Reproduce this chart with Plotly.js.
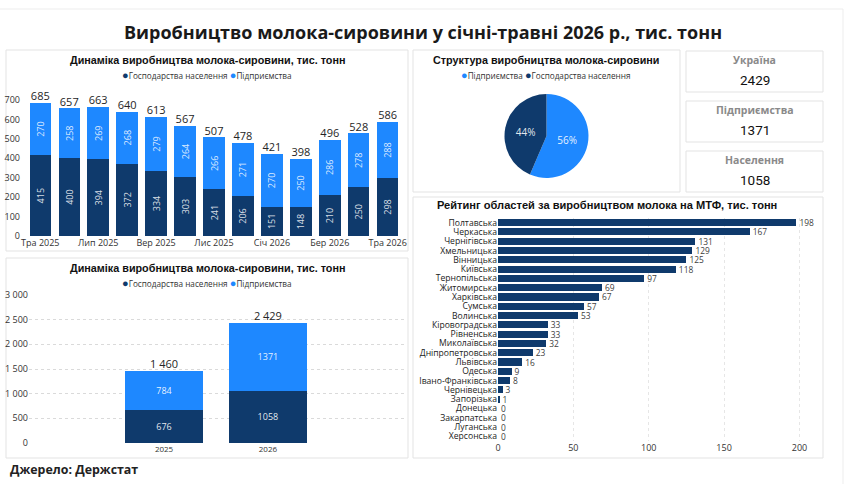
<!DOCTYPE html>
<html>
<head>
<meta charset="utf-8">
<script src="https://cdn.plot.ly/plotly-3.0.1.min.js"></script>
<style>
html,body{margin:0;padding:0;background:#fff;}
#chart{width:849px;height:484px;}
</style>
</head>
<body>
<div id="chart"></div>
<script>
// ---- Data ----
const months = ["Тра 2025","Чер 2025","Лип 2025","Сер 2025","Вер 2025","Жов 2025","Лис 2025","Гру 2025","Січ 2026","Лют 2026","Бер 2026","Кві 2026","Тра 2026"];
const monthTickLabels = ["Тра 2025","Лип 2025","Вер 2025","Лис 2025","Січ 2026","Бер 2026","Тра 2026"];
const householdsMonthly = [415,400,394,372,334,303,241,206,151,148,210,250,298];
const enterprisesMonthly = [270,258,269,268,279,264,266,271,270,250,286,278,288];
const totalsMonthly = [685,657,663,640,613,567,507,478,421,398,496,528,586];

const years = ["2025","2026"];
const householdsYear = [676,1058];
const enterprisesYear = [784,1371];
const totalsYear = [1460,2429];

const pieLabels = ["Підприємства","Господарства населення"];
const pieValues = [1371,1058];

const kpiLabels = ["Україна","Підприємства","Населення"];
const kpiValues = [2429,1371,1058];

const regions = ["Полтавська","Черкаська","Чернігівська","Хмельницька","Вінницька","Київська","Тернопільська","Житомирська","Харківська","Сумська","Волинська","Кіровоградська","Рівненська","Миколаївська","Дніпропетровська","Львівська","Одеська","Івано-Франківська","Чернівецька","Запорізька","Донецька","Закарпатська","Луганська","Херсонська"];
const regionValues = [198,167,131,129,125,118,97,69,67,57,53,33,33,32,23,16,9,8,3,1,0,0,0,0];

// ---- Style ----
const NAVY = "#0F3A6C";
const BLUE = "#1E88FF";
const W = 849, H = 484;
const px = x => x / W;
const py = y => 1 - y / H;
const FONT = "Open Sans, Noto Sans, sans-serif";
const TFONT = "Liberation Sans, Arial, sans-serif";

const traces = [];

// Chart 1: monthly stacked bars
traces.push({type:"bar", x:months, y:householdsMonthly, name:"Господарства населення",
  marker:{color:NAVY}, text:householdsMonthly.map(String), textposition:"inside",
  insidetextanchor:"middle", textangle:-90, constraintext:"none", textfont:{color:"rgba(255,255,255,0.85)", size:9, family:FONT},
  xaxis:"x", yaxis:"y", showlegend:false, hoverinfo:"y"});
traces.push({type:"bar", x:months, y:enterprisesMonthly, name:"Підприємства",
  marker:{color:BLUE}, text:enterprisesMonthly.map(String), textposition:"inside",
  insidetextanchor:"middle", textangle:-90, constraintext:"none", textfont:{color:"rgba(255,255,255,0.85)", size:9, family:FONT},
  xaxis:"x", yaxis:"y", showlegend:false, hoverinfo:"y"});
traces.push({type:"scatter", mode:"text", x:months, y:totalsMonthly, text:totalsMonthly.map(String),
  textposition:"top center", textfont:{color:"#252525", size:11, family:FONT}, cliponaxis:false,
  xaxis:"x", yaxis:"y", showlegend:false, hoverinfo:"skip"});

// Chart 2: yearly stacked bars
traces.push({type:"bar", x:years, y:householdsYear, name:"Господарства населення", width:[0.75,0.75],
  marker:{color:NAVY}, text:householdsYear.map(String), textposition:"inside", insidetextanchor:"middle",
  textfont:{color:"rgba(255,255,255,0.9)", size:9, family:FONT}, xaxis:"x2", yaxis:"y2", showlegend:false});
traces.push({type:"bar", x:years, y:enterprisesYear, name:"Підприємства", width:[0.75,0.75],
  marker:{color:BLUE}, text:enterprisesYear.map(String), textposition:"inside", insidetextanchor:"middle",
  textfont:{color:"rgba(255,255,255,0.9)", size:9, family:FONT}, xaxis:"x2", yaxis:"y2", showlegend:false});
traces.push({type:"scatter", mode:"text", x:years, y:totalsYear, texttemplate:"%{y:,.0f}",
  textposition:"top center", textfont:{color:"#252525", size:11, family:FONT}, cliponaxis:false,
  xaxis:"x2", yaxis:"y2", showlegend:false, hoverinfo:"skip"});

// Pie
traces.push({type:"pie", labels:pieLabels, values:pieValues, sort:false, direction:"clockwise", rotation:0,
  marker:{colors:[BLUE, NAVY]}, textinfo:"percent", texttemplate:"%{percent:.0%}", textposition:"inside",
  insidetextorientation:"horizontal",
  textfont:{color:"rgba(255,255,255,0.9)", size:10, family:FONT},
  domain:{x:[px(504), px(589)], y:[py(178), py(94)]}, showlegend:false});

// Ranking
traces.push({type:"bar", orientation:"h", y:regions, x:regionValues, marker:{color:NAVY},
  width:regionValues.map(()=>0.76),
  text:regionValues.map(String), textposition:"outside", cliponaxis:false, constraintext:"none",
  textfont:{color:"#404040", size:8.4, family:FONT}, xaxis:"x3", yaxis:"y3", showlegend:false});

// ---- Panels ----
const shapes = [];
function box(x0,y0,x1,y1,color){
  shapes.push({type:"rect", xref:"paper", yref:"paper", x0:px(x0), x1:px(x1), y0:py(y1), y1:py(y0),
    line:{color:color||"#E3E3E3", width:1}, fillcolor:"rgba(0,0,0,0)", layer:"below"});
}
shapes.push({type:"line", xref:"paper", yref:"paper", x0:0, x1:px(843), y0:py(9), y1:py(9), line:{color:"#EDEDED", width:1}});
shapes.push({type:"line", xref:"paper", yref:"paper", x0:px(843), x1:px(843), y0:py(9), y1:py(484), line:{color:"#EDEDED", width:1}});
box(6,50,408,251);
box(6,258,408,458);
box(413,50,680,192);
box(686,51,823,92);
box(686,101,823,142);
box(686,151,823,192);
box(413,197,823,458);

const annotations = [];
function txt(x,y,text,size,color,family,opts){
  annotations.push(Object.assign({xref:"paper", yref:"paper", x:px(x), y:py(y), text:text, showarrow:false,
    xanchor:"center", yanchor:"middle", font:{size:size, color:color||"#111", family:family||FONT}}, opts||{}));
}
txt(423,32,"<b>Виробництво молока-сировини у січні-травні 2026 р., тис. тонн</b>",18,"#1a1a1a",FONT);
const dot = c => `<span style="color:${c};font-size:11px">●</span>`;
const legend1 = `${dot(NAVY)}Господарства населення ${dot(BLUE)}Підприємства`;
const legend2 = `${dot(BLUE)}Підприємства ${dot(NAVY)}Господарства населення`;
txt(207,60,"<b>Динаміка виробництва молока-сировини, тис. тонн</b>",10.8,"#111",TFONT);
txt(207,75,legend1,8.2,"#333");
txt(207,268,"<b>Динаміка виробництва молока-сировини, тис. тонн</b>",10.8,"#111",TFONT);
txt(207,282,legend1,8.2,"#333");
txt(546,60,"<b>Структура виробництва молока-сировини</b>",10.8,"#111",TFONT);
txt(546,75,legend2,8.2,"#333");
txt(607,205,"<b>Рейтинг областей за виробництвом молока на МТФ, тис. тонн</b>",11.1,"#111",TFONT);
const kpiY = [51,101,151];
for (let i=0;i<kpiLabels.length;i++){
  txt(754.5,kpiY[i]+9,"<b>"+kpiLabels[i]+"</b>",10.5,"#8a8a8a");
  txt(754.5,kpiY[i]+29,String(kpiValues[i]),13.5,"#111","Roboto, sans-serif");
}
txt(8,469,"<b>Джерело: Держстат</b>",12.4,"#222",FONT,{xanchor:"left"});

const tickFont = {size:9, color:"#333", family:FONT};

const layout = {
  width:W, height:H, margin:{l:0,r:0,t:0,b:0},
  paper_bgcolor:"#fff", plot_bgcolor:"rgba(0,0,0,0)",
  separators:", ",
  barmode:"stack",
  font:{family:FONT},
  xaxis:{domain:[px(21), px(407)], anchor:"y", type:"category", tickmode:"array", tickvals:monthTickLabels, ticktext:monthTickLabels,
    tickfont:tickFont, showgrid:false, zeroline:false, showline:false, ticks:""},
  yaxis:{domain:[py(236), py(92)], anchor:"x", range:[0, 741], tickvals:[0,100,200,300,400,500,600,700],
    tickfont:tickFont, showgrid:false, zeroline:false, ticks:""},
  xaxis2:{domain:[px(29), px(405)], anchor:"y2", type:"category", range:[-1.3, 2.32],
    tickfont:{size:8, color:"#333", family:FONT}, showgrid:false, zeroline:false, ticks:""},
  yaxis2:{domain:[py(443), py(295)], anchor:"x2", range:[0,3000], dtick:500, tickformat:",.0f",
    tickfont:tickFont, showgrid:true, gridcolor:"#DADADA", griddash:"dot", zeroline:false, ticks:""},
  xaxis3:{domain:[px(498), px(810)], anchor:"y3", range:[0,207], tickvals:[0,50,100,150,200],
    tickfont:tickFont, showgrid:true, gridcolor:"#E6E6E6", griddash:"dot", zeroline:false, ticks:""},
  yaxis3:{domain:[py(441), py(218)], anchor:"x3", type:"category", autorange:"reversed",
    tickmode:"array", tickvals:regions, ticktext:regions,
    tickfont:{size:8.6, color:"#222", family:FONT}, showgrid:false, zeroline:false, ticks:""},
  bargap:0.26,
  shapes:shapes, annotations:annotations
};

Plotly.newPlot("chart", traces, layout, {displayModeBar:false, staticPlot:true});
</script>
</body>
</html>
